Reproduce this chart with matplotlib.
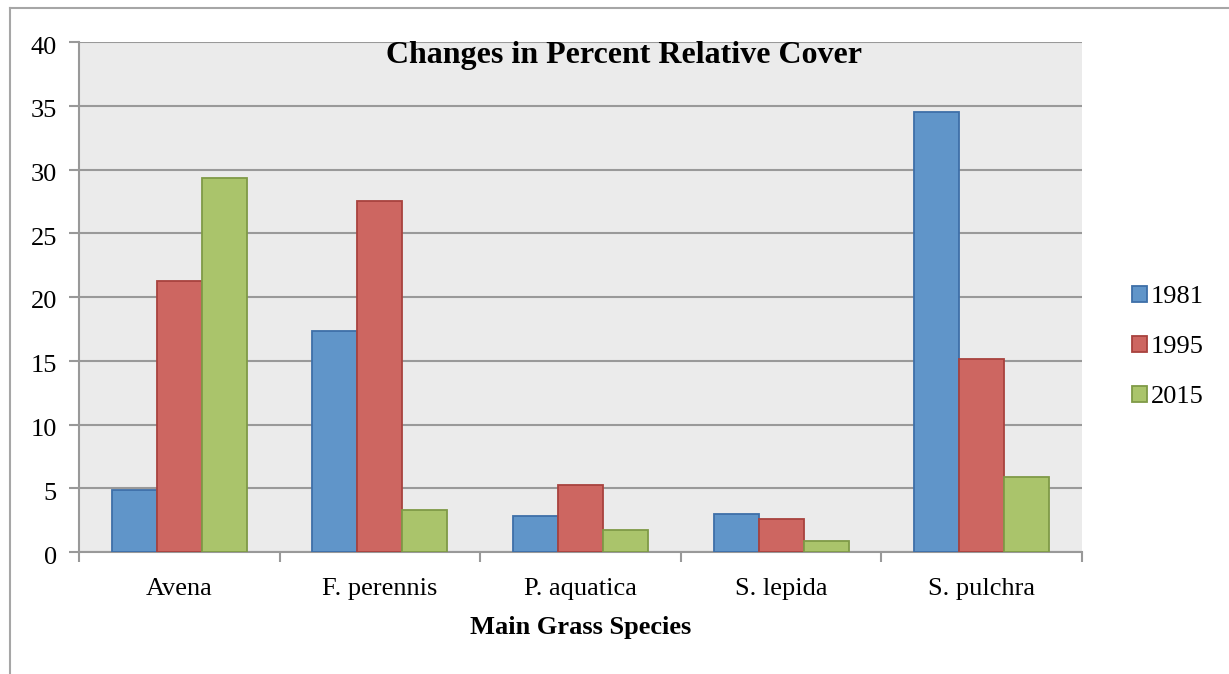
import matplotlib
matplotlib.use("Agg")
import matplotlib.pyplot as plt
import numpy as np
from matplotlib.lines import Line2D
from matplotlib.ticker import FixedLocator, NullFormatter
from matplotlib.transforms import ScaledTranslation

plt.rcParams["font.family"] = ["Liberation Serif", "DejaVu Serif"]

species = ["Avena", "F. perennis", "P. aquatica", "S. lepida", "S. pulchra"]
years = ["1981", "1995", "2015"]
cover_1981 = [4.9, 17.3, 2.85, 3.0, 34.5]
cover_1995 = [21.25, 27.5, 5.28, 2.6, 15.1]
cover_2015 = [29.3, 3.3, 1.75, 0.84, 5.88]

faces = ["#6095C9", "#CD6661", "#AAC46B"]
edges = ["#3E6FA8", "#A8423E", "#7F9A47"]

W, H = 1229, 674
fig = plt.figure(figsize=(W / 100, H / 100), dpi=100)
ax = fig.add_axes([79 / W, (H - 552) / H, (1082 - 79) / W, (552 - 42) / H])
ax.set_facecolor("#EBEBEB")

x = np.arange(len(species))
bw = 0.224
for i, (vals, fc, ec, lab) in enumerate(zip([cover_1981, cover_1995, cover_2015], faces, edges, years)):
    ax.bar(x + (i - 1) * bw, vals, width=bw, color=fc, edgecolor=ec, linewidth=1.3,
           label=lab, zorder=3)

ax.set_xlim(-0.5, len(species) - 0.5)
ax.set_ylim(0, 40)
ax.set_yticks(range(0, 41, 5))
ax.yaxis.grid(True, color="#999999", linewidth=1.5, zorder=1)
ax.set_axisbelow(True)

ax.set_xticks(x)
ax.set_xticklabels(species, fontsize=19)
ax.tick_params(axis="x", length=0, pad=19)
ax.xaxis.set_minor_locator(FixedLocator(np.arange(-0.5, len(species), 1.0)))
ax.xaxis.set_minor_formatter(NullFormatter())
ax.tick_params(axis="x", which="minor", length=7, width=1.5, color="#999999", direction="out")
ax.tick_params(axis="y", length=7, width=1.5, color="#999999", labelsize=19, pad=9)
# Excel-style labels sit a touch below their gridline
shift = ScaledTranslation(0, -3 / 100, fig.dpi_scale_trans)
for lbl in ax.get_yticklabels():
    lbl.set_transform(lbl.get_transform() + shift)

for side in ["top", "right"]:
    ax.spines[side].set_visible(False)
for side in ["left", "bottom"]:
    ax.spines[side].set_color("#999999")
    ax.spines[side].set_linewidth(1.5)

ax.set_xlabel("Main Grass Species", fontsize=19, fontweight="bold", labelpad=11)

fig.text(624 / W, 1 - 55 / H, "Changes in Percent Relative Cover", fontsize=23,
         fontweight="bold", ha="center", va="center")

ax.legend(loc="center left", bbox_to_anchor=(1.05, 0.402), frameon=False, fontsize=19,
          handlelength=0.55, handleheight=0.55, handletextpad=0.15, labelspacing=1.05,
          borderpad=0, borderaxespad=0)

# outer chart frame (top and left edges)
fig.add_artist(Line2D([10 / W, 1.0], [1 - 8 / H, 1 - 8 / H], color="#A6A6A6", linewidth=1.5,
                      transform=fig.transFigure))
fig.add_artist(Line2D([10 / W, 10 / W], [0, 1 - 8 / H], color="#A6A6A6", linewidth=1.5,
                      transform=fig.transFigure))

fig.savefig("out.png", dpi=100)
